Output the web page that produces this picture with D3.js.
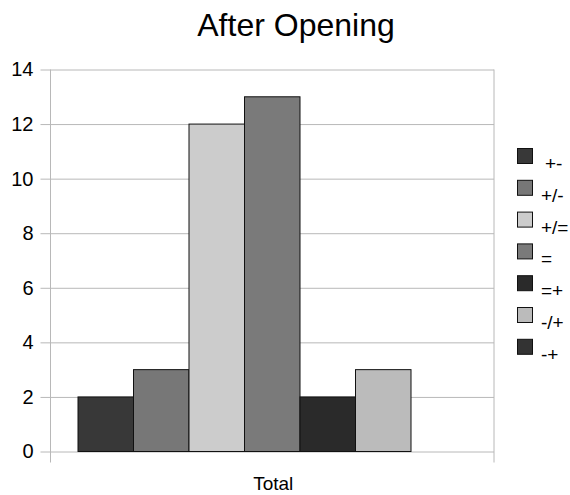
<!DOCTYPE html>
<html><head><meta charset="utf-8">
<script src="https://cdn.jsdelivr.net/npm/d3@7/dist/d3.min.js"></script>
<style>body{margin:0;background:#fff}</style>
</head><body>
<script>
const title = "After Opening";
const categories = ["Total"];
const seriesNames = ["+-", "+/-", "+/=", "=", "=+", "-/+", "-+"];
const seriesValues = [2, 3, 12, 13, 2, 3, 0];
const seriesColors = ["#383838", "#777777", "#cccccc", "#7a7a7a", "#2a2a2a", "#bbbbbb", "#333333"];
const yTicks = [0, 2, 4, 6, 8, 10, 12, 14];

const W = 570, H = 495;
const m = {l: 50.5, r: 76, t: 69.5, b: 43.5};
const svg = d3.select("body").append("svg").attr("width", W).attr("height", H)
  .style("font-family", "'Liberation Sans', Arial, sans-serif");

const x0 = d3.scaleBand().domain(categories).range([m.l, W - m.r]);
const x1 = d3.scaleBand().domain(seriesNames).range([x0(categories[0]) + 27.5, x0(categories[0]) + x0.bandwidth() - 27.5]);
const y = d3.scaleLinear().domain([0, 14]).range([H - m.b, m.t]);

svg.append("text").attr("x", 296).attr("y", 36).attr("text-anchor", "middle")
  .attr("font-size", 32).text(title);

// grid
const gy = svg.append("g").attr("transform", `translate(${m.l},0)`)
  .call(d3.axisLeft(y).tickValues(yTicks).tickSize(10).tickPadding(7).tickFormat(d3.format("d")));
gy.select(".domain").remove();
gy.selectAll(".tick line").attr("stroke", "#b8b8b8").attr("x2", W - m.r - m.l).attr("x1", -10);
gy.selectAll(".tick text").attr("font-size", 20).attr("fill", "#000");

// vertical lines
svg.append("g").selectAll("line").data([m.l, W - m.r]).join("line")
  .attr("x1", d => d).attr("x2", d => d).attr("y1", m.t).attr("y2", H - m.b + 11)
  .attr("stroke", "#b8b8b8");

// bars
svg.append("g").selectAll("rect").data(seriesNames.map((n, i) => ({n, v: seriesValues[i], c: seriesColors[i]})).filter(d => d.v > 0))
  .join("rect")
  .attr("x", d => x1(d.n)).attr("width", x1.bandwidth())
  .attr("y", d => y(d.v)).attr("height", d => y(0) - y(d.v))
  .attr("fill", d => d.c).attr("stroke", "#111").attr("stroke-width", 1);

// x label
svg.append("text").attr("x", x0(categories[0]) + x0.bandwidth() / 2 + 1).attr("y", 490)
  .attr("text-anchor", "middle").attr("font-size", 19).text(categories[0]);

// legend
const lg = svg.append("g");
seriesNames.forEach((n, i) => {
  const yy = 148 + i * 31.8;
  lg.append("rect").attr("x", 517.5).attr("y", yy + 0.5).attr("width", 15).attr("height", 15)
    .attr("fill", seriesColors[i]).attr("stroke", "#111");
  lg.append("text").attr("x", i === 0 ? 545 : 541).attr("y", yy + 22).attr("font-size", 19).text(n);
});
</script>
</body></html>
